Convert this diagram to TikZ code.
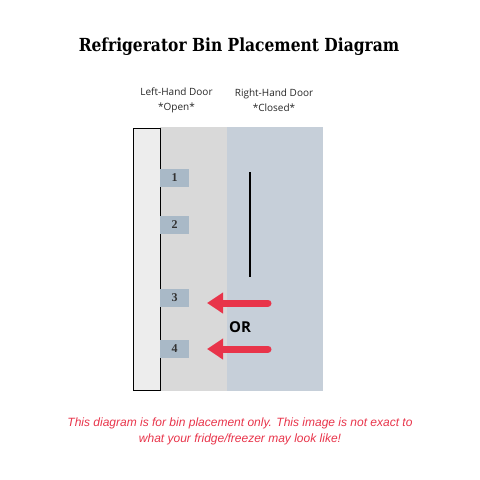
\documentclass[tikz,border=0pt]{standalone}
\usepackage{fontspec}
\setmainfont{DejaVu Serif}
\newfontfamily\labfont{Open Sans}
\newfontfamily\notefont{Liberation Sans}
\newfontfamily\titlefont{DejaVu Serif}
\newfontfamily\numfont{Liberation Serif}
\usetikzlibrary{arrows.meta}
\definecolor{lgray}{HTML}{D9D9D9}
\definecolor{bgray}{HTML}{C6CFD9}
\definecolor{bin}{HTML}{A9B9C7}
\definecolor{door}{HTML}{EDEDED}
\definecolor{redc}{HTML}{E8344A}
\tikzset{
  binbox/.style={fill=bin, draw=none, minimum width=29pt, minimum height=18pt, inner sep=0pt, font=\numfont\fontsize{12}{12}\selectfont\bfseries, text=black!80},
  lab/.style={font=\labfont\fontsize{10}{15}\selectfont, align=center, text=black!85},
  redarrow/.style={draw=redc, line width=7pt, line cap=round, -{Triangle[length=16pt,width=20pt]}},
}
\begin{document}
\begin{tikzpicture}[x=1pt,y=-1pt]
\useasboundingbox (0,0) rectangle (480,480);
\node[font=\titlefont\bfseries\fontsize{18}{20}\selectfont] (title) at (239,47) {\scalebox{0.86}[1]{Refrigerator Bin Placement Diagram}};
\node[lab] (left) at (176.5,100) {Left-Hand Door\\*Open*};
\node[lab] (right) at (274,100) {Right-Hand Door\\*Closed*};
\fill[lgray] (160,127) rectangle (227,391);
\fill[bgray] (227,127) rectangle (323,391);
\draw[fill=door, line width=0.9pt] (133,128) rectangle (160,390);
\node[binbox] (b1) at (174.5,178) {1};
\node[binbox] (b2) at (174.5,225) {2};
\node[binbox] (b3) at (174.5,298) {3};
\node[binbox] (b4) at (174.5,349) {4};
\coordinate (lt) at (250,172);
\coordinate (lb) at (250,277);
\draw[line width=2pt] (lt) -- (lb);
\coordinate (a1s) at (268,303);
\coordinate (a1e) at (207,303);
\coordinate (a2s) at (268,349);
\coordinate (a2e) at (207,349);
\draw[redarrow] (a1s) -- (a1e);
\draw[redarrow] (a2s) -- (a2e);
\node[font=\labfont\bfseries\fontsize{15}{15}\selectfont] (or) at (240,327) {OR};
\node[font=\notefont\itshape\fontsize{12}{16}\selectfont, text=redc, align=center] (note) at (240,431) {This diagram is for bin placement only. This image is not exact to\\what your fridge/freezer may look like!};
\end{tikzpicture}
\end{document}
